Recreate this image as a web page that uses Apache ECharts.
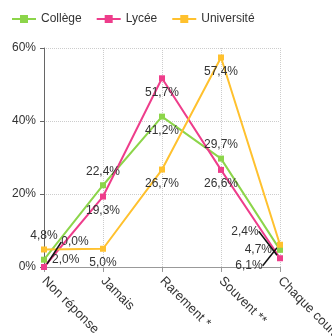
<!DOCTYPE html>
<html>
<head>
<meta charset="utf-8">
<script src="https://cdn.jsdelivr.net/npm/echarts@6/dist/echarts.min.js"></script>
<style>
  html, body { margin: 0; padding: 0; background: #fff; }
  #main { width: 332px; height: 336px; }
</style>
</head>
<body>
<div id="main"></div>
<script>
var categories = ['Non réponse', 'Jamais', 'Rarement *', 'Souvent **', 'Chaque cours'];
var college = [2.0, 22.4, 41.2, 29.7, 4.7];
var lycee = [0.0, 19.3, 51.7, 26.6, 2.4];
var universite = [4.8, 5.0, 26.7, 57.4, 6.1];
var yTicks = [0, 20, 40, 60];

// où placer chaque étiquette
var collegePos = ['right', 'top', 'bottom', 'top', 'left'];
var lyceePos = ['top', 'bottom', 'bottom', 'bottom', 'top'];
var universitePos = ['top', 'bottom', 'bottom', 'bottom', 'bottom'];
// déplacements des étiquettes qui se chevauchent (avec trait de rappel)
var lyceeMove = { 0: [31, -11], 4: [-35, -13] };
var universiteMove = { 4: [-31, 7] };

function pct(v) {
    return v.toFixed(1).replace('.', ',') + '%';
}

function withPos(values, pos, moves) {
    return values.map(function (v, i) {
        var vert = pos[i] === 'top' || pos[i] === 'bottom';
        return {
            value: v,
            label: { position: pos[i], offset: [0, vert ? 5 : 0] },
            labelLine: { show: !!moves[i] }
        };
    });
}

function mover(moves) {
    return function (p) {
        var m = moves[p.dataIndex];
        if (!m) return {};
        return { dx: m[0], dy: m[1] };
    };
}

function serie(name, color, values, pos, moves) {
    moves = moves || {};
    return {
        name: name,
        type: 'line',
        data: withPos(values, pos, moves),
        symbol: 'rect',
        symbolSize: 6,
        itemStyle: { color: color },
        lineStyle: { color: color, width: 2 },
        label: {
            show: true,
            color: '#333',
            fontSize: 12,
            fontFamily: 'Liberation Sans',
            formatter: function (p) { return pct(p.value); }
        },
        labelLine: { show: false, lineStyle: { color: '#111', width: 1.5 } },
        labelLayout: mover(moves)
    };
}

var myChart = echarts.init(document.getElementById('main'));
var option = {
    animation: false,
    textStyle: { fontFamily: 'Liberation Sans' },
    legend: {
        left: 6,
        top: 8,
        itemGap: 14,
        itemWidth: 24,
        itemHeight: 10,
        textStyle: { color: '#333', fontSize: 12 },
        data: ['Collège', 'Lycée', 'Université']
    },
    grid: { left: 44, right: 52, top: 48, bottom: 69, outerBoundsMode: 'none' },
    xAxis: {
        type: 'category',
        data: categories,
        boundaryGap: false,
        axisLine: { lineStyle: { color: '#999' } },
        axisTick: { show: true, alignWithLabel: true, lineStyle: { color: '#999' } },
        axisLabel: { rotate: -45, color: '#333', fontSize: 13, interval: 0, margin: 12 },
        splitLine: { show: true, lineStyle: { type: 'dotted', color: '#ccc' } }
    },
    yAxis: {
        type: 'value',
        min: yTicks[0],
        max: yTicks[yTicks.length - 1],
        interval: 20,
        axisLine: { show: true, lineStyle: { color: '#666' } },
        axisTick: { show: true, length: 4, lineStyle: { color: '#666' } },
        axisLabel: { color: '#333', fontSize: 12, formatter: '{value}%' },
        splitLine: { show: true, lineStyle: { type: 'dotted', color: '#ccc' } }
    },
    series: [
        serie('Collège', '#8cd54a', college, collegePos),
        serie('Lycée', '#ee3d8b', lycee, lyceePos, lyceeMove),
        serie('Université', '#ffc12e', universite, universitePos, universiteMove)
    ]
};
myChart.setOption(option);
</script>
</body>
</html>
